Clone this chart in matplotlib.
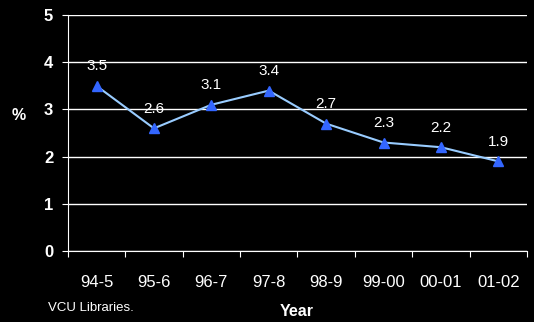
import matplotlib
matplotlib.use('Agg')
import matplotlib.pyplot as plt

years = ['94-5', '95-6', '96-7', '97-8', '98-9', '99-00', '00-01', '01-02']
pct = [3.5, 2.6, 3.1, 3.4, 2.7, 2.3, 2.2, 1.9]
yticks = [0, 1, 2, 3, 4, 5]

plt.rcParams['font.family'] = ['Liberation Sans', 'DejaVu Sans']

fig = plt.figure(figsize=(5.34, 3.22), dpi=100, facecolor='black')
ax = fig.add_axes([0.127, 0.2205, 0.86, 0.7325])
ax.set_facecolor('black')

x = list(range(len(years)))
ax.plot(x, pct, color='#99ccff', lw=1.5, marker='^', markersize=6.5,
        markerfacecolor='#3366ff', markeredgecolor='#3366ff', zorder=3)
for xi, v in zip(x, pct):
    ax.annotate(str(v), (xi, v), xytext=(0, 9), textcoords='offset points',
                ha='center', va='bottom', color='white', fontsize=11)

ax.set_xlim(-0.5, len(years) - 0.5)
ax.set_ylim(0, 5)
ax.set_yticks(yticks)
ax.set_yticklabels([str(t) for t in yticks], fontweight='bold', fontsize=12)
ax.set_xticks([i - 0.5 for i in x] + [len(years) - 0.5])
ax.set_xticklabels([])
ax.set_xticks(x, minor=True)
ax.set_xticklabels(years, minor=True, fontsize=12)
ax.tick_params(axis='x', which='minor', length=0, pad=17, colors='white')
ax.tick_params(axis='x', which='major', length=4, colors='white', direction='out')
ax.tick_params(axis='y', length=4.5, colors='white', pad=6)
ax.grid(axis='y', color='white', lw=1)

for s in ['top', 'right']:
    ax.spines[s].set_visible(False)
for s in ['left', 'bottom']:
    ax.spines[s].set_color('white')

fig.text(19 / 534, 1 - 116 / 322, '%', color='white', fontweight='bold', fontsize=11.5, ha='center', va='center')
fig.text(297 / 534, 1 - 312 / 322, 'Year', color='white', fontweight='bold', fontsize=11.5, ha='center', va='center')
fig.text(48 / 534, 1 - 308 / 322, 'VCU Libraries.', color='white', fontsize=9.5, ha='left', va='center')

fig.savefig('out.png', dpi=100, facecolor='black')
